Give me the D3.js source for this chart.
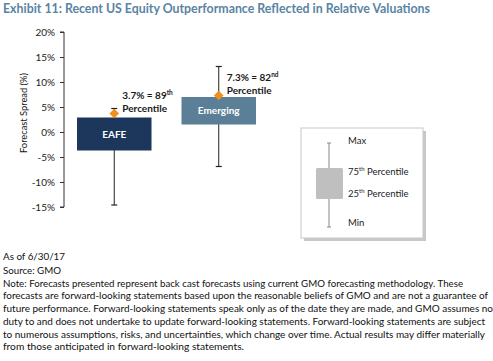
<!DOCTYPE html>
<html>
<head>
<meta charset="utf-8">
<script src="https://cdn.jsdelivr.net/npm/d3@7"></script>
<style>
  body { margin: 0; background: #fff; }
  svg { display: block; font-family: Lato, "Open Sans", sans-serif; }
</style>
</head>
<body>
<div id="container"></div>
<script>
/* DATA */
const regions = ["EAFE", "Emerging"];
const whiskerMin = [-14.6, -6.9];
const boxLow = [-3.7, 1.5];      // 25th percentile
const boxHigh = [2.9, 7.0];      // 75th percentile
const whiskerMax = [4.7, 13.1];
const current = [3.7, 7.3];
const currentPct = ["89", "82"];
const currentSup = ["th", "nd"];
const yTicks = [-15, -10, -5, 0, 5, 10, 15, 20];
const noteLines = [
  "As of 6/30/17",
  "Source: GMO",
  "Note: Forecasts presented represent back cast forecasts using current GMO forecasting methodology. These",
  "forecasts are forward-looking statements based upon the reasonable beliefs of GMO and are not a guarantee of",
  "future performance. Forward-looking statements speak only as of the date they are made, and GMO assumes no",
  "duty to and does not undertake to update forward-looking statements. Forward-looking statements are subject",
  "to numerous assumptions, risks, and uncertainties, which change over time. Actual results may differ materially",
  "from those anticipated in forward-looking statements."
];
const noteWidths = [62, 58, 460, 485, 490, 482, 482, 241];

const width = 493, height = 361;
const boxColor = ["#1c365c", "#5b7f96"];

const svg = d3.select("#container").append("svg")
  .attr("width", width)
  .attr("height", height);

// title
svg.append("text")
  .attr("x", 3).attr("y", 13)
  .attr("font-size", 12.5).attr("font-weight", "bold")
  .attr("fill", "#5a84a3")
  .attr("textLength", 427).attr("lengthAdjust", "spacingAndGlyphs")
  .text("Exhibit 11: Recent US Equity Outperformance Reflected in Relative Valuations");

/* SCALES */
const yScale = d3.scaleLinear().domain([-15, 20]).range([207, 32]);
const xScale = d3.scaleBand().domain(regions).range([77, 256]).paddingInner(0.287).paddingOuter(0);

// y axis
const yAxis = d3.axisLeft(yScale).tickValues(yTicks).tickSize(4).tickFormat(d => d + "%");
const ga = svg.append("g").attr("transform", "translate(64,0)").call(yAxis);
ga.select(".domain").attr("stroke", "#333").attr("d", "M-4,32H0V207H-4");
ga.selectAll(".tick line").attr("stroke", "#333");
ga.selectAll(".tick text").attr("font-size", 10).attr("fill", "#222").attr("x", -9)
  .attr("font-family", "Lato, sans-serif");

svg.append("text")
  .attr("transform", "translate(27,113) rotate(-90)")
  .attr("text-anchor", "middle")
  .attr("font-size", 10).attr("fill", "#111")
  .attr("textLength", 80).attr("lengthAdjust", "spacingAndGlyphs")
  .text("Forecast Spread (%)");

/* BOXES */
const rows = regions.map((r, i) => ({
  name: r, min: whiskerMin[i], lo: boxLow[i], hi: boxHigh[i], max: whiskerMax[i],
  cur: current[i], pct: currentPct[i], sup: currentSup[i], color: boxColor[i]
}));

const g = svg.selectAll(".box").data(rows).enter().append("g");
const cx = d => xScale(d.name) + xScale.bandwidth() / 2;

g.append("line")
  .attr("x1", cx).attr("x2", cx)
  .attr("y1", d => yScale(d.max))
  .attr("y2", d => yScale(d.min))
  .attr("stroke", "#222").attr("stroke-width", 1);
[d => d.max, d => d.min].forEach(f => {
  g.append("line")
    .attr("x1", d => cx(d) - 3)
    .attr("x2", d => cx(d) + 3)
    .attr("y1", d => yScale(f(d)))
    .attr("y2", d => yScale(f(d)))
    .attr("stroke", "#222").attr("stroke-width", 1.2);
});

g.append("rect")
  .attr("x", d => xScale(d.name))
  .attr("width", xScale.bandwidth())
  .attr("y", d => yScale(d.hi))
  .attr("height", d => yScale(d.lo) - yScale(d.hi))
  .attr("fill", d => d.color);

g.append("text")
  .attr("x", cx)
  .attr("y", d => (yScale(d.lo) + yScale(d.hi)) / 2 + 3.5)
  .attr("text-anchor", "middle")
  .attr("font-size", 10).attr("font-weight", "bold").attr("fill", "#fff")
  .text(d => d.name);

// current value diamonds
g.append("path")
  .attr("d", d3.symbol(d3.symbolDiamond2, 60))
  .attr("transform", d => `translate(${cx(d)},${yScale(d.cur)})`)
  .attr("fill", "#f0901c");

const lab = g.append("text")
  .attr("font-size", 10).attr("font-weight", "bold").attr("fill", "#1a1a1a");
const t1 = lab.append("tspan")
  .attr("x", d => cx(d) + 8)
  .attr("y", d => yScale(d.cur) - 15);
t1.append("tspan").text(d => d3.format(".1f")(d.cur) + "% = " + d.pct);
t1.append("tspan").attr("font-size", 6.5).attr("dy", -4).text(d => d.sup);
lab.append("tspan")
  .attr("x", d => cx(d) + 8)
  .attr("y", d => yScale(d.cur) - 1.5)
  .text("Percentile");

/* LEGEND */
const leg = svg.append("g").attr("transform", "translate(301,128)");
leg.append("rect").attr("x", 3).attr("y", 3).attr("width", 122).attr("height", 110).attr("fill", "#c8c8c8");
leg.append("rect").attr("x", 0).attr("y", 0).attr("width", 122).attr("height", 110)
  .attr("fill", "#fff").attr("stroke", "#c8c8c8").attr("stroke-width", 1);
leg.append("line").attr("x1", 28).attr("x2", 28).attr("y1", 15).attr("y2", 99).attr("stroke", "#888");
[15, 99].forEach(y => leg.append("line").attr("x1", 26).attr("x2", 30).attr("y1", y).attr("y2", y).attr("stroke", "#888"));
leg.append("rect").attr("x", 15).attr("y", 40).attr("width", 27).attr("height", 31).attr("rx", 1.5).attr("fill", "#bfbfbf");
const legItems = [["Max", "", 16], ["75", "th", 47], ["25", "th", 69], ["Min", "", 98]];
legItems.forEach(([a, s, y]) => {
  const t = leg.append("text").attr("x", 47).attr("y", y).attr("font-size", 9.5).attr("fill", "#222");
  t.append("tspan").text(a);
  if (s) {
    t.append("tspan").attr("font-size", 6).attr("dy", -4).text(s);
    t.append("tspan").attr("dy", 4).text(" Percentile");
  }
});

/* FOOTNOTES */
svg.append("g").selectAll("text").data(noteLines).enter().append("text")
  .attr("x", 3)
  .attr("y", (d, i) => i === 0 ? 260 : 274 + (i - 1) * 12.7)
  .attr("font-size", 9.6).attr("fill", "#111")
  .attr("textLength", (d, i) => noteWidths[i]).attr("lengthAdjust", "spacingAndGlyphs")
  .text(d => d);
</script>
</body>
</html>
